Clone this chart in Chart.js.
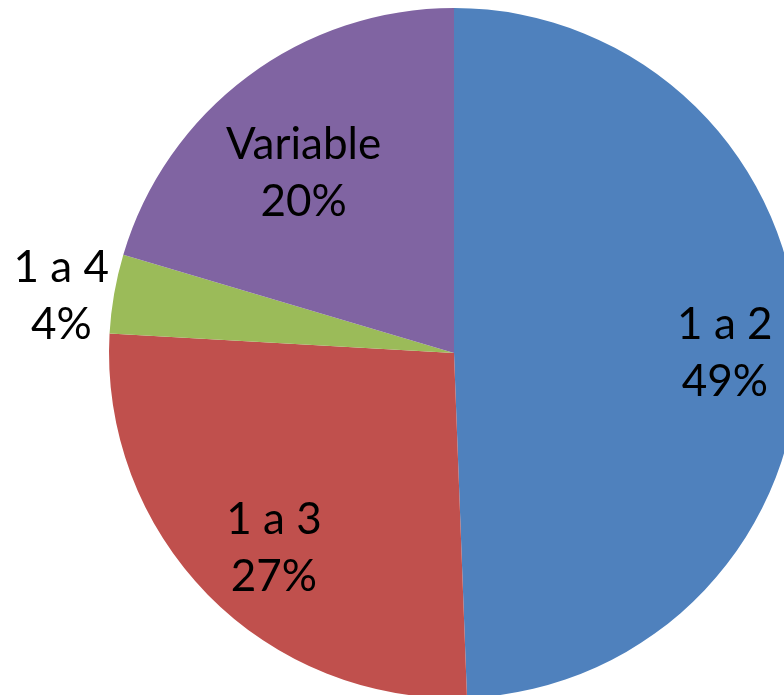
<!DOCTYPE html>
<html>
<head>
<meta charset="utf-8">
<script src="https://cdn.jsdelivr.net/npm/chart.js@4/dist/chart.umd.min.js"></script>
<style>
  html, body { margin: 0; padding: 0; background: #ffffff; overflow: hidden; width: 784px; height: 695px; }
  #wrap { position: absolute; left: 0; top: 0; }
</style>
</head>
<body>
<div id="wrap"><canvas id="pieChart" width="908" height="706"></canvas></div>
<script>
// Categorias e valores
const categorias = ['1 a 2', '1 a 3', '1 a 4', 'Variable'];
const valores = [49.4, 26.5, 3.7, 20.4];
const cores = ['#4F81BD', '#C0504D', '#9BBB59', '#8064A2'];

// Plugin simples para escrever rótulo + percentagem em cada fatia
const rotulosPlugin = {
    id: 'rotulos',
    afterDatasetsDraw(chart, args, opts) {
        const ctx = chart.ctx;
        const meta = chart.getDatasetMeta(0);
        const dados = chart.data.datasets[0].data;
        const total = dados.reduce((a, b) => a + b, 0);
        ctx.save();
        ctx.font = opts.font;
        ctx.fillStyle = opts.color;
        ctx.textAlign = 'center';
        ctx.textBaseline = 'middle';
        meta.data.forEach((arc, i) => {
            const p = arc.getProps(['x', 'y', 'startAngle', 'endAngle', 'outerRadius'], true);
            const meio = (p.startAngle + p.endAngle) / 2 + (opts.desvioAngulo[i] || 0);
            const r = p.outerRadius * opts.distancia[i];
            const cx = p.x + Math.cos(meio) * r;
            const cy = p.y + Math.sin(meio) * r;
            const pct = Math.round(dados[i] / total * 100) + '%';
            ctx.fillText(chart.data.labels[i], cx, cy - opts.entreLinhas / 2);
            ctx.fillText(pct, cx, cy + opts.entreLinhas / 2);
        });
        ctx.restore();
    }
};

const ctxPie = document.getElementById('pieChart').getContext('2d');

new Chart(ctxPie, {
    type: 'pie',
    data: {
        labels: categorias,
        datasets: [{
            data: valores,
            backgroundColor: cores,
            borderWidth: 0,
        }],
    },
    options: {
        responsive: false,
        animation: false,
        devicePixelRatio: 1,
        layout: { padding: { top: 8, bottom: 8, left: 0, right: 0 } },
        plugins: {
            legend: { display: false },
            tooltip: { enabled: false },
            rotulos: {
                font: '44px Lato, "Open Sans", sans-serif',
                color: '#000000',
                entreLinhas: 57,
                distancia: [0.785, 0.77, 1.15, 0.68],
                desvioAngulo: [0.02, -0.05, -0.03, -0.055],
            },
        },
    },
    plugins: [rotulosPlugin],
});
</script>
</body>
</html>
